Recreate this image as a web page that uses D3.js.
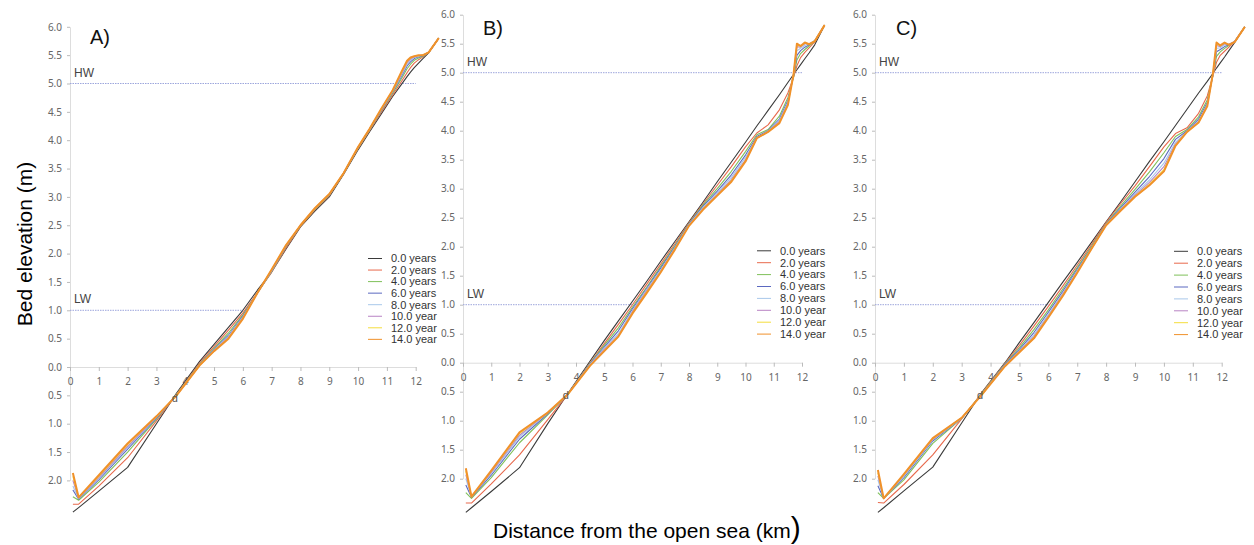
<!DOCTYPE html>
<html>
<head>
<meta charset="utf-8">
<script src="https://cdn.jsdelivr.net/npm/d3@7"></script>
<style>
  body { margin: 0; background: #fff; }
  svg { display: block; }
  .tick text { font-family: "Noto Sans", sans-serif; font-size: 10px; fill: #666; }
  .tick line { stroke: #bbb; }
  .domain { stroke: #ddd; }
</style>
</head>
<body>
<div id="chart"></div>
<script>
// distance from the open sea (km), shared by every profile
const distKm = [0.1, 0.3, 1, 2, 3, 3.7, 4.5, 5, 5.5, 6, 6.5, 7, 7.5, 8, 8.5, 9, 9.5, 10,
  10.4, 10.8, 11.2, 11.5, 11.7, 11.82, 11.95, 12.1, 12.25, 12.45, 12.8];

const years = ["0.0 years", "2.0 years", "4.0 years", "6.0 years", "8.0 years",
  "10.0 year", "12.0 year", "14.0 year"];
const lineColors = ["#3a3a3a", "#e8694c", "#7fc05a", "#5b68c0", "#a8c8ea", "#b883c4", "#f4dd3c", "#f0912a"];

const panelLabels = ["A)", "B)", "C)"];
const xTicks = [0, 1, 2, 3, 4, 5, 6, 7, 8, 9, 10, 11, 12];
const yTicks = [-2, -1.5, -1, -0.5, 0, 0.5, 1, 1.5, 2, 2.5, 3, 3.5, 4, 4.5, 5, 5.5, 6];
const tideLevels = [{ name: "HW", value: 5, upTo: 12 }, { name: "LW", value: 1, upTo: 6 }];

// bed elevation (m), one row per year
const elevA = [
  [-2.56, -2.48, -2.19, -1.77, -1.00, -0.46, 0.10, 0.40, 0.70, 1.00, 1.35, 1.68, 2.08, 2.47, 2.75, 3.00, 3.40, 3.83, 4.15, 4.46, 4.77, 4.98, 5.12, 5.20, 5.28, 5.36, 5.44, 5.54, 5.80],
  [-2.42, -2.42, -2.10, -1.60, -0.95, -0.48, 0.07, 0.36, 0.65, 0.95, 1.31, 1.67, 2.10, 2.48, 2.77, 3.02, 3.42, 3.85, 4.17, 4.49, 4.80, 5.03, 5.19, 5.28, 5.36, 5.42, 5.47, 5.55, 5.80],
  [-2.29, -2.35, -2.03, -1.50, -0.92, -0.48, 0.05, 0.33, 0.60, 0.92, 1.30, 1.68, 2.12, 2.49, 2.78, 3.03, 3.42, 3.86, 4.18, 4.51, 4.83, 5.08, 5.26, 5.34, 5.41, 5.45, 5.48, 5.55, 5.80],
  [-2.17, -2.33, -1.99, -1.45, -0.90, -0.49, 0.04, 0.31, 0.56, 0.90, 1.30, 1.69, 2.13, 2.50, 2.79, 3.04, 3.42, 3.87, 4.19, 4.52, 4.85, 5.12, 5.31, 5.38, 5.44, 5.47, 5.49, 5.55, 5.80],
  [-2.10, -2.32, -1.97, -1.42, -0.89, -0.49, 0.04, 0.30, 0.54, 0.88, 1.30, 1.70, 2.14, 2.50, 2.79, 3.04, 3.42, 3.87, 4.19, 4.53, 4.86, 5.14, 5.34, 5.41, 5.46, 5.48, 5.50, 5.55, 5.80],
  [-2.00, -2.31, -1.95, -1.40, -0.88, -0.50, 0.03, 0.29, 0.52, 0.87, 1.30, 1.71, 2.14, 2.50, 2.80, 3.05, 3.42, 3.88, 4.20, 4.54, 4.87, 5.16, 5.37, 5.43, 5.47, 5.49, 5.50, 5.55, 5.80],
  [-1.93, -2.30, -1.93, -1.37, -0.87, -0.50, 0.03, 0.28, 0.51, 0.86, 1.30, 1.72, 2.15, 2.50, 2.80, 3.05, 3.42, 3.88, 4.20, 4.55, 4.88, 5.18, 5.39, 5.45, 5.48, 5.49, 5.50, 5.55, 5.80],
  [-1.87, -2.30, -1.91, -1.35, -0.87, -0.50, 0.03, 0.28, 0.50, 0.85, 1.30, 1.72, 2.15, 2.50, 2.80, 3.05, 3.42, 3.88, 4.20, 4.55, 4.88, 5.20, 5.40, 5.46, 5.48, 5.50, 5.50, 5.55, 5.80]
];
const elevB = [
  [-2.58, -2.50, -2.22, -1.81, -1.05, -0.54, 0.03, 0.38, 0.72, 1.06, 1.40, 1.75, 2.09, 2.43, 2.77, 3.12, 3.46, 3.80, 4.08, 4.35, 4.62, 4.83, 4.97, 5.05, 5.14, 5.24, 5.34, 5.48, 5.82],
  [-2.42, -2.42, -2.09, -1.59, -0.98, -0.55, 0.00, 0.33, 0.66, 1.00, 1.35, 1.70, 2.05, 2.41, 2.74, 3.06, 3.38, 3.72, 3.96, 4.10, 4.36, 4.65, 4.92, 5.12, 5.26, 5.35, 5.43, 5.53, 5.82],
  [-2.24, -2.34, -1.98, -1.38, -0.90, -0.55, -0.01, 0.30, 0.60, 0.96, 1.30, 1.66, 2.02, 2.40, 2.72, 3.00, 3.30, 3.64, 3.93, 4.02, 4.25, 4.57, 4.92, 5.22, 5.33, 5.40, 5.46, 5.54, 5.82],
  [-2.11, -2.32, -1.94, -1.32, -0.88, -0.55, -0.02, 0.27, 0.55, 0.93, 1.28, 1.63, 2.00, 2.39, 2.70, 2.96, 3.24, 3.58, 3.90, 4.00, 4.20, 4.52, 4.95, 5.30, 5.38, 5.44, 5.48, 5.55, 5.82],
  [-2.00, -2.31, -1.91, -1.28, -0.87, -0.55, -0.03, 0.25, 0.50, 0.90, 1.26, 1.60, 1.98, 2.38, 2.68, 2.93, 3.20, 3.54, 3.88, 3.99, 4.18, 4.49, 4.97, 5.38, 5.42, 5.47, 5.50, 5.55, 5.82],
  [-1.93, -2.31, -1.89, -1.25, -0.86, -0.55, -0.04, 0.23, 0.47, 0.88, 1.24, 1.58, 1.97, 2.37, 2.66, 2.90, 3.16, 3.50, 3.87, 3.98, 4.16, 4.47, 4.98, 5.45, 5.44, 5.50, 5.50, 5.55, 5.82],
  [-1.87, -2.31, -1.87, -1.22, -0.86, -0.55, -0.05, 0.21, 0.46, 0.86, 1.22, 1.57, 1.96, 2.36, 2.65, 2.89, 3.14, 3.48, 3.87, 3.98, 4.14, 4.45, 4.98, 5.48, 5.45, 5.51, 5.49, 5.55, 5.82],
  [-1.82, -2.31, -1.86, -1.20, -0.86, -0.55, -0.05, 0.20, 0.45, 0.85, 1.20, 1.56, 1.95, 2.36, 2.64, 2.88, 3.12, 3.47, 3.87, 3.98, 4.13, 4.44, 4.97, 5.50, 5.46, 5.52, 5.49, 5.54, 5.82]
];
const elevC = [
  [-2.58, -2.50, -2.21, -1.80, -1.04, -0.51, 0.00, 0.35, 0.69, 1.04, 1.39, 1.73, 2.08, 2.43, 2.77, 3.12, 3.47, 3.81, 4.09, 4.37, 4.65, 4.85, 4.99, 5.08, 5.17, 5.27, 5.38, 5.52, 5.79],
  [-2.41, -2.42, -2.10, -1.59, -0.97, -0.52, -0.01, 0.30, 0.63, 0.97, 1.32, 1.68, 2.04, 2.42, 2.74, 3.05, 3.38, 3.72, 3.95, 4.05, 4.30, 4.60, 4.95, 5.18, 5.30, 5.37, 5.44, 5.53, 5.79],
  [-2.24, -2.34, -2.02, -1.39, -0.96, -0.53, -0.02, 0.26, 0.57, 0.91, 1.27, 1.64, 2.01, 2.40, 2.70, 2.99, 3.29, 3.62, 3.90, 4.02, 4.24, 4.53, 4.96, 5.28, 5.36, 5.42, 5.47, 5.54, 5.79],
  [-2.12, -2.34, -1.98, -1.35, -0.96, -0.54, -0.03, 0.23, 0.52, 0.87, 1.23, 1.61, 1.99, 2.39, 2.67, 2.94, 3.21, 3.52, 3.85, 4.00, 4.20, 4.48, 4.97, 5.36, 5.40, 5.45, 5.48, 5.54, 5.79],
  [-2.02, -2.34, -1.96, -1.33, -0.96, -0.54, -0.04, 0.21, 0.48, 0.83, 1.20, 1.59, 1.98, 2.38, 2.65, 2.91, 3.15, 3.44, 3.80, 3.99, 4.17, 4.45, 4.98, 5.42, 5.43, 5.48, 5.49, 5.54, 5.79],
  [-1.95, -2.34, -1.94, -1.32, -0.95, -0.55, -0.05, 0.20, 0.45, 0.81, 1.18, 1.57, 1.97, 2.38, 2.64, 2.89, 3.11, 3.38, 3.77, 3.98, 4.15, 4.44, 4.99, 5.47, 5.45, 5.50, 5.49, 5.54, 5.79],
  [-1.90, -2.34, -1.93, -1.31, -0.95, -0.55, -0.06, 0.19, 0.43, 0.79, 1.16, 1.56, 1.97, 2.37, 2.63, 2.87, 3.08, 3.33, 3.75, 3.98, 4.14, 4.43, 5.00, 5.50, 5.46, 5.51, 5.48, 5.53, 5.79],
  [-1.85, -2.34, -1.92, -1.30, -0.95, -0.55, -0.06, 0.18, 0.42, 0.78, 1.15, 1.55, 1.97, 2.37, 2.62, 2.86, 3.06, 3.30, 3.74, 3.98, 4.14, 4.42, 5.00, 5.52, 5.47, 5.52, 5.48, 5.53, 5.79]
];

const W = 1254, H = 545;
const svg = d3.select("#chart").append("svg").attr("width", W).attr("height", H);

// pixel frame of each panel: x range for 0..12 km, y range for 0..6 m
const frames = [
  { elev: elevA, x0: 70, x12: 415.7, y0: 367, y6: 26.8, lab: [90, 44], leg: [368, 258.5, 11.55] },
  { elev: elevB, x0: 463, x12: 802, y0: 362.7, y6: 14.7, lab: [483, 35], leg: [757, 250.8, 11.9] },
  { elev: elevC, x0: 875, x12: 1221.7, y0: 362.7, y6: 14.7, lab: [896, 35], leg: [1174, 251.3, 11.9] }
];

frames.forEach((f, pi) => {
  const x = d3.scaleLinear().domain([0, 12]).range([f.x0, f.x12]);
  const unit = (f.y0 - f.y6) / 6;
  const y = d3.scaleLinear().domain([-2, 6]).range([f.y0 + 2 * unit, f.y6]);
  const g = svg.append("g");

  // axes
  g.append("g")
    .attr("transform", `translate(${f.x0},0)`)
    .call(d3.axisLeft(y).tickValues(yTicks).tickSize(3).tickSizeOuter(0).tickPadding(5)
      .tickFormat(d => Math.abs(d).toFixed(1)));
  g.append("g")
    .attr("transform", `translate(0,${y(0)})`)
    .call(d3.axisBottom(x).tickValues(xTicks).tickSize(4).tickSizeOuter(0).tickPadding(7));

  // tide levels
  tideLevels.forEach(t => {
    g.append("line")
      .attr("x1", x(0)).attr("x2", x(t.upTo))
      .attr("y1", y(t.value)).attr("y2", y(t.value))
      .attr("stroke", "#9da6dc").attr("stroke-width", 1)
      .attr("stroke-dasharray", "1.5,1");
    g.append("text")
      .attr("x", x(0) + 4).attr("y", y(t.value) - 7)
      .style("font-family", "Liberation Sans, Arial, sans-serif")
      .style("font-size", "12px").style("fill", "#444")
      .text(t.name);
  });

  // profiles
  const line = d3.line()
    .x((d, i) => x(distKm[i]))
    .y(d => y(d));
  g.selectAll("path.profile")
    .data(f.elev)
    .join("path")
    .attr("class", "profile")
    .attr("d", line)
    .attr("fill", "none")
    .attr("stroke", (d, i) => lineColors[i])
    .attr("stroke-width", (d, i) => i === lineColors.length - 1 ? 2 : 1.1)
    .attr("stroke-linejoin", "round");

  g.append("text")
    .attr("x", x(3.53)).attr("y", y(-0.62))
    .style("font-family", "Liberation Sans, Arial, sans-serif")
    .style("font-size", "11px").style("fill", "#555")
    .text("d");

  // legend
  const [lx, ly, step] = f.leg;
  const leg = g.selectAll("g.leg")
    .data(years)
    .join("g")
    .attr("class", "leg")
    .attr("transform", (d, i) => `translate(${lx},${ly + i * step})`);
  leg.append("line")
    .attr("x1", 0).attr("x2", 14)
    .attr("stroke", (d, i) => lineColors[i]).attr("stroke-width", 1);
  leg.append("text")
    .attr("x", 23).attr("dy", "0.35em")
    .style("font-family", "Liberation Sans, Arial, sans-serif")
    .style("font-size", "11px").style("fill", "#333")
    .text(d => d);

  g.append("text")
    .attr("x", f.lab[0]).attr("y", f.lab[1])
    .style("font-family", "Liberation Sans, Arial, sans-serif")
    .style("font-size", "20px").style("fill", "#111")
    .text(panelLabels[pi]);
});

// shared axis titles
svg.append("text")
  .attr("transform", "translate(32,244) rotate(-90)")
  .attr("text-anchor", "middle")
  .style("font-family", "Liberation Sans, Arial, sans-serif")
  .style("font-size", "21px").style("fill", "#000")
  .text("Bed elevation (m)");

const xt = svg.append("text")
  .attr("x", 493).attr("y", 538)
  .style("font-family", "Liberation Sans, Arial, sans-serif")
  .style("font-size", "21px").style("fill", "#000");
xt.append("tspan").text("Distance from the open sea (km");
xt.append("tspan").style("font-size", "30px").text(")");
</script>
</body>
</html>
